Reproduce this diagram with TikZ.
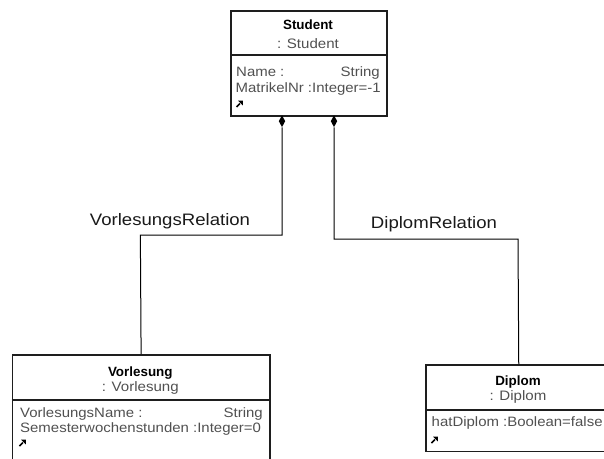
\documentclass[tikz,border=0pt]{standalone}
\usepackage{fontspec}
\setmainfont{Liberation Sans}
\newfontfamily\attrfont[FakeStretch=1.1]{Liberation Sans}
\newfontfamily\relfont[FakeStretch=1.12]{Liberation Sans}
\usetikzlibrary{shapes.geometric}

\definecolor{boxline}{HTML}{1E1E1E}
\definecolor{attrgray}{HTML}{505050}
\definecolor{labelink}{HTML}{1A1A1A}

\begin{document}
\begin{tikzpicture}[x=1pt,y=-1pt,
  classbox/.style={draw=boxline, line width=1.5pt, anchor=north west, inner sep=0pt},
  divider/.style={draw=boxline, line width=1.3pt},
  conn/.style={draw=black, line width=1pt},
  compdia/.style={diamond, fill=black, inner sep=0pt, minimum width=6.5pt, minimum height=12pt, aspect=0.5, anchor=north},
  clsname/.style={font=\fontsize{13.4}{15}\selectfont\bfseries, text=black, anchor=base, inner sep=0pt},
  clstype/.style={font=\attrfont\fontsize{13.7}{15}\selectfont, text=attrgray, anchor=base, inner sep=0pt},
  attrl/.style={font=\attrfont\fontsize{13.6}{15}\selectfont, text=attrgray, anchor=base west, inner sep=0pt},
  attrr/.style={font=\attrfont\fontsize{13.6}{15}\selectfont, text=attrgray, anchor=base east, inner sep=0pt},
  rellabel/.style={font=\relfont\fontsize{16.6}{19}\selectfont, text=labelink, anchor=base, inner sep=0pt},
  linkicon/.pic={
    \draw[line width=1.6pt, black] (0,0) -- (3.4,-3.4);
    \fill[black] (1.6,-6.3) -- (6.3,-6.3) -- (6.3,-1.6) -- cycle;
  }
]
\useasboundingbox (0,0) rectangle (604,458);
\clip (0,0) rectangle (604,458);

% class boxes
\node[classbox, minimum width=156pt, minimum height=105pt] (student) at (230,10) {};
\node[classbox, minimum width=257.3pt, minimum height=120pt] (vorl) at (11.7,354) {};
\node[classbox, minimum width=186pt, minimum height=86.5pt] (dipl) at (425,364) {};

% compartment dividers
\draw[divider] (230,55) -- (386,55);
\draw[divider] (11.7,400) -- (269,400);
\draw[divider] (425,410) -- (611,410);

% Student
\node[clsname] (sname) at (308,29.5) {Student};
\node[clstype] (stype) at (308,48) {: Student};
\node[attrl] (sa1) at (236,76) {Name :};
\node[attrr] (sa1t) at (380,76) {String};
\node[attrl] (sa2) at (235.5,92) {MatrikelNr :Integer=-1};
\pic at (236.5,107) {linkicon};

% Vorlesung
\node[clsname] (vname) at (140.3,376) {Vorlesung};
\node[clstype] (vtype) at (140.3,391) {: Vorlesung};
\node[attrl] (va1) at (20,417.7) {VorlesungsName :};
\node[attrr] (va1t) at (263,417.7) {String};
\node[attrl] (va2) at (20,432.7) {Semesterwochenstunden :Integer=0};
\pic at (19.5,446) {linkicon};

% Diplom
\node[clsname] (dname) at (518,385) {Diplom};
\node[clstype] (dtype) at (518,400) {: Diplom};
\node[attrl] (da1) at (431.5,426) {hatDiplom :Boolean=false};
\pic at (431.5,443) {linkicon};

% composition ends
\node[compdia] (d1) at (282,115) {};
\node[compdia] (d2) at (334,115) {};

% connectors
\coordinate (bendL) at (140.35,235);
\coordinate (bendR) at (518,239);
\draw[conn] (d1.south) |- (bendL) -- (vorl.north);
\draw[conn] (d2.south) |- (bendR) -- (dipl.north);

% association labels
\node[rellabel] (rl1) at (170,225) {VorlesungsRelation};
\node[rellabel] (rl2) at (434,228.3) {DiplomRelation};
\end{tikzpicture}
\end{document}
